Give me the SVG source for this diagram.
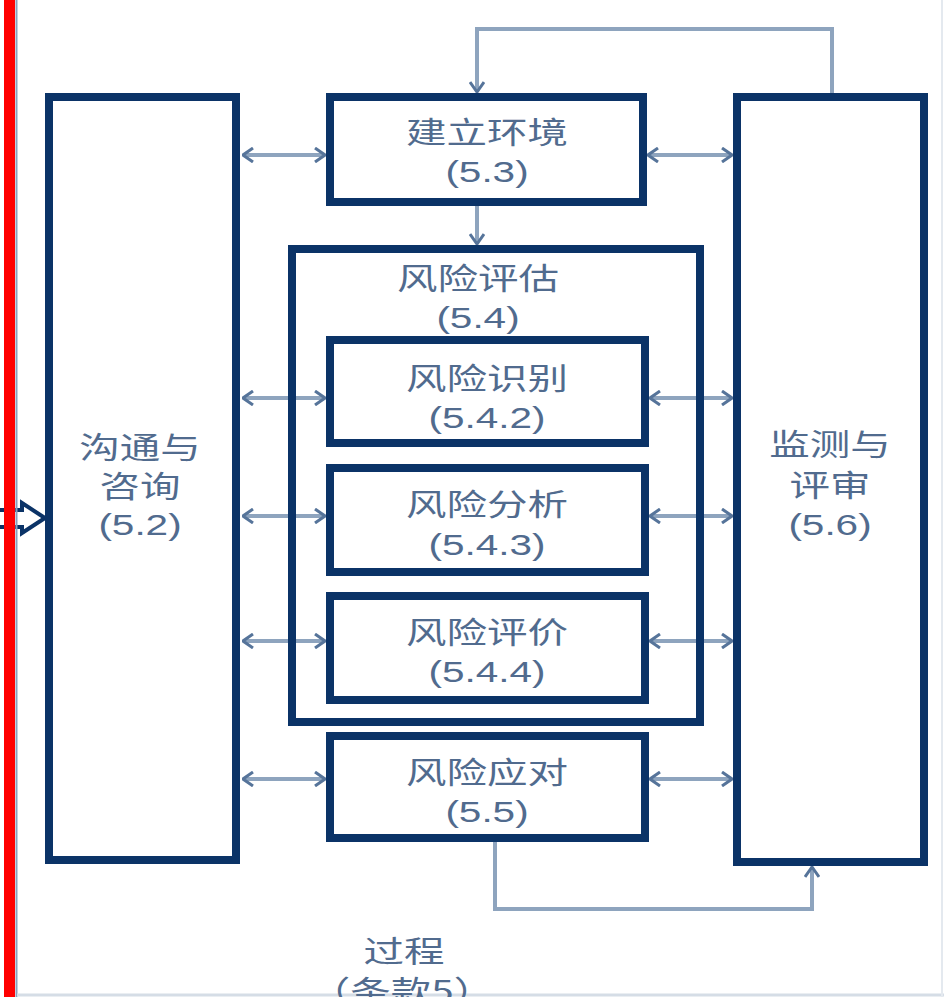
<svg xmlns="http://www.w3.org/2000/svg" width="944" height="997" viewBox="0 0 944 997">
<defs>
<style>
.box{fill:#ffffff;stroke:#0b3367;stroke-width:8}
.outer{fill:none;stroke:#0b3367;stroke-width:8}
.con{fill:none;stroke:#8ea4be;stroke-width:4}
.t{font-family:"Noto Sans CJK SC","Liberation Sans",sans-serif;font-size:30px;fill:#516b8e;text-anchor:middle}
.n{font-family:"Liberation Sans","Noto Sans CJK SC",sans-serif;font-size:30px;fill:#516b8e;text-anchor:middle}
</style>
<marker id="ah" viewBox="0 0 12 16" refX="11" refY="8" markerWidth="12" markerHeight="16" markerUnits="userSpaceOnUse" orient="auto-start-reverse">
<path d="M1,1 L11,8 L1,15" fill="none" stroke="#56749a" stroke-width="3"/>
</marker>
</defs>
<rect width="944" height="997" fill="#ffffff"/>

<g id="frame">
<path d="M20,510 L0,510 M20,527 L0,527" stroke="#0b3367" stroke-width="4"/>
<path d="M0,510 L22,510 L22,503 L45,518 L22,533 L22,527 L0,527" fill="#ffffff" stroke="#0b3367" stroke-width="4" stroke-linejoin="miter"/>
<rect x="4" y="0" width="11" height="997" fill="#ff0000"/>
<line x1="16.5" y1="0" x2="16.5" y2="997" stroke="#8aa0bd" stroke-width="2"/>
<line x1="17" y1="995" x2="944" y2="995" stroke="#d5dde6" stroke-width="3"/>
<line x1="942" y1="0" x2="942" y2="997" stroke="#e4e9ef" stroke-width="2"/>
</g>

<g id="connectors">
<path class="con" d="M832,93 L832,29 L477,29 L477,92" marker-end="url(#ah)"/>
<path class="con" d="M477,206 L477,244" marker-end="url(#ah)"/>
<path class="con" d="M495,842 L495,909 L812,909 L812,867" marker-end="url(#ah)"/>
<line class="con" x1="243" y1="155" x2="325" y2="155" marker-start="url(#ah)" marker-end="url(#ah)"/>
<line class="con" x1="648" y1="155" x2="732" y2="155" marker-start="url(#ah)" marker-end="url(#ah)"/>
<line class="con" x1="243" y1="398" x2="325" y2="398" marker-start="url(#ah)" marker-end="url(#ah)"/>
<line class="con" x1="650" y1="398" x2="732" y2="398" marker-start="url(#ah)" marker-end="url(#ah)"/>
<line class="con" x1="243" y1="516" x2="325" y2="516" marker-start="url(#ah)" marker-end="url(#ah)"/>
<line class="con" x1="650" y1="516" x2="732" y2="516" marker-start="url(#ah)" marker-end="url(#ah)"/>
<line class="con" x1="243" y1="641" x2="325" y2="641" marker-start="url(#ah)" marker-end="url(#ah)"/>
<line class="con" x1="650" y1="641" x2="732" y2="641" marker-start="url(#ah)" marker-end="url(#ah)"/>
<line class="con" x1="243" y1="779" x2="325" y2="779" marker-start="url(#ah)" marker-end="url(#ah)"/>
<line class="con" x1="650" y1="779" x2="732" y2="779" marker-start="url(#ah)" marker-end="url(#ah)"/>
</g>

<g id="n52">
<rect class="box" x="49" y="97" width="187" height="763"/>
<text class="t" transform="translate(140,458) scale(1.35,1)">沟通与</text>
<text class="t" transform="translate(140,497) scale(1.35,1)">咨询</text>
<text class="n" transform="translate(140,535) scale(1.35,1)">(5.2)</text>
</g>

<g id="n53">
<rect class="box" x="330" y="97" width="313" height="105"/>
<text class="t" transform="translate(487,143) scale(1.35,1)">建立环境</text>
<text class="n" transform="translate(487,182) scale(1.35,1)">(5.3)</text>
</g>

<g id="n54">
<rect class="outer" x="292" y="249" width="408" height="473"/>
<text class="t" transform="translate(478,289) scale(1.35,1)">风险评估</text>
<text class="n" transform="translate(478,328) scale(1.35,1)">(5.4)</text>
</g>

<g id="n542">
<rect class="box" x="330" y="340" width="315" height="103"/>
<text class="t" transform="translate(487,389) scale(1.35,1)">风险识别</text>
<text class="n" transform="translate(487,428) scale(1.35,1)">(5.4.2)</text>
</g>

<g id="n543">
<rect class="box" x="330" y="468" width="315" height="104"/>
<text class="t" transform="translate(487,515) scale(1.35,1)">风险分析</text>
<text class="n" transform="translate(487,555) scale(1.35,1)">(5.4.3)</text>
</g>

<g id="n544">
<rect class="box" x="330" y="596" width="315" height="104"/>
<text class="t" transform="translate(487,643) scale(1.35,1)">风险评价</text>
<text class="n" transform="translate(487,682) scale(1.35,1)">(5.4.4)</text>
</g>

<g id="n55">
<rect class="box" x="330" y="736" width="315" height="102"/>
<text class="t" transform="translate(487,783) scale(1.35,1)">风险应对</text>
<text class="n" transform="translate(487,822) scale(1.35,1)">(5.5)</text>
</g>

<g id="n56">
<rect class="box" x="737" y="97" width="187" height="765"/>
<text class="t" transform="translate(830,455) scale(1.35,1)">监测与</text>
<text class="t" transform="translate(830,496) scale(1.35,1)">评审</text>
<text class="n" transform="translate(830,535) scale(1.35,1)">(5.6)</text>
</g>

<g id="caption">
<text class="t" transform="translate(404,962) scale(1.35,1)">过程</text>
<text class="t" transform="translate(402,1002) scale(1.35,1)">（条款5）</text>
</g>
</svg>
